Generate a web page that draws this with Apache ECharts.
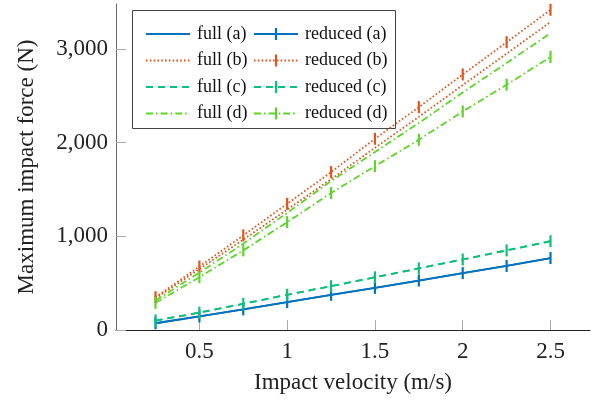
<!DOCTYPE html>
<html>
<head>
<meta charset="utf-8">
<script src="https://cdn.jsdelivr.net/npm/echarts@6/dist/echarts.min.js"></script>
<style>html,body{margin:0;padding:0;background:#fff;}#c{width:598px;height:402px;}</style>
</head>
<body>
<div id="c"></div>
<script>
// Data
const velocities = [0.25, 0.5, 0.75, 1.0, 1.25, 1.5, 1.75, 2.0, 2.25, 2.5];
const fullA    = [72, 145, 220, 298, 376, 450, 528, 607, 684, 768];
const reducedA = [72, 145, 220, 298, 376, 450, 528, 607, 684, 768];
const fullB    = [338, 650, 965, 1285, 1610, 1945, 2275, 2615, 2950, 3288];
const reducedB = [350, 678, 1010, 1347, 1686, 2041, 2379, 2728, 3072, 3418];
const fullC    = [101, 185, 280, 376, 468, 562, 658, 753, 850, 948];
const reducedC = [101, 185, 280, 376, 468, 562, 658, 753, 850, 948];
const fullD    = [315, 612, 922, 1250, 1590, 1900, 2210, 2535, 2850, 3168];
const reducedD = [290, 564, 850, 1151, 1462, 1749, 2030, 2333, 2618, 2915];
const xTicks = [0.5, 1, 1.5, 2, 2.5];
const yTicks = [0, 1000, 2000, 3000];
const seriesNames = ['full (a)', 'reduced (a)', 'full (b)', 'reduced (b)', 'full (c)', 'reduced (c)', 'full (d)', 'reduced (d)'];

const colA = '#0072BD', colB = '#E0561C', colC = '#0DC07A', colD = '#5ED42B';
const dashA = null, dashB = [1.6, 2.2], dashC = [7, 5], dashD = [7, 3, 1.6, 3];
const font = 'Liberation Serif';
const bar = 'path://M0,0h2v12h-2z';

function pairs(vals) { return velocities.map((v, i) => [v, vals[i]]); }
function mk(name, vals, color, dash, marker) {
  return {
    name: name, type: 'line', data: pairs(vals),
    symbol: marker ? bar : 'none',
    symbolSize: [2.2, 12],
    showSymbol: !!marker,
    color: color,
    itemStyle: { color: color },
    lineStyle: { color: color, width: 1.8, type: dash || 'solid' },
    animation: false,
    z: marker ? 3 : 2
  };
}
// legend icon: line sample (with its dash pattern) plus optional bar marker
function iconPath(pattern, marker) {
  const W = 44, y0 = 6.1, y1 = 7.9;
  let d = 'M0,0L0,0ZM' + W + ',14L' + W + ',14Z';
  const pat = pattern || [W, 0];
  let x = 0, i = 0;
  while (x < W) {
    const on = pat[i % pat.length];
    const x1 = Math.min(x + on, W);
    d += 'M' + x + ',' + y0 + 'L' + x1 + ',' + y0 + 'L' + x1 + ',' + y1 + 'L' + x + ',' + y1 + 'Z';
    x = x1 + pat[(i + 1) % pat.length];
    i += 2;
    if (pat[(i - 1) % pat.length] === 0 && x1 >= W) break;
  }
  if (marker) d += 'M20.9,1L23.1,1L23.1,13L20.9,13Z';
  return 'path://' + d;
}

const dashes = [dashA, dashB, dashC, dashD];
const legendBase = {
  orient: 'vertical', top: 20, itemWidth: 44, itemHeight: 14, itemGap: 8.5,
  itemStyle: { borderWidth: 0 },
  textStyle: { fontFamily: font, fontSize: 18, color: '#111', lineHeight: 18, padding: [0, 0, 0, 2] },
  z: 10
};

const chart = echarts.init(document.getElementById('c'), null, { renderer: 'canvas' });
chart.setOption({
  backgroundColor: '#fff',
  animation: false,
  grid: { left: 116, right: 8, top: 4, bottom: 72 },
  xAxis: {
    type: 'value', min: 0.025, max: 2.725,
    name: 'Impact velocity (m/s)', nameLocation: 'middle', nameGap: 41,
    nameTextStyle: { fontFamily: font, fontSize: 23, color: '#222' },
    axisLine: { lineStyle: { color: '#222', width: 1.2 } },
    axisTick: { inside: true, length: 10, lineStyle: { color: '#aaa', width: 1 }, customValues: xTicks },
    axisLabel: { fontFamily: font, fontSize: 23, color: '#222', margin: 10, customValues: xTicks },
    splitLine: { show: false }
  },
  yAxis: {
    type: 'value', min: 0, max: 3480,
    name: 'Maximum impact force (N)', nameLocation: 'middle', nameGap: 78, nameRotate: 90,
    nameTextStyle: { fontFamily: font, fontSize: 23, color: '#222' },
    axisLine: { show: true, lineStyle: { color: '#666', width: 1 } },
    axisTick: { show: true, inside: true, length: 10, lineStyle: { color: '#aaa', width: 1 }, customValues: yTicks },
    axisLabel: { fontFamily: font, fontSize: 23, color: '#222', margin: 8, customValues: yTicks,
      formatter: v => v.toLocaleString('en-US') },
    splitLine: { show: false }
  },
  graphic: [{
    type: 'rect', left: 132, top: 10, z: 0,
    shape: { width: 263, height: 118 },
    style: { fill: '#fff', stroke: '#444', lineWidth: 1 }
  }],
  legend: [
    Object.assign({}, legendBase, {
      left: 141,
      data: [0, 2, 4, 6].map((k, j) => ({ name: seriesNames[k], icon: iconPath(dashes[j], false) }))
    }),
    Object.assign({}, legendBase, {
      left: 249,
      data: [1, 3, 5, 7].map((k, j) => ({ name: seriesNames[k], icon: iconPath(dashes[j], true) }))
    })
  ],
  series: [
    mk(seriesNames[0], fullA, colA, dashA, false),
    mk(seriesNames[1], reducedA, colA, dashA, true),
    mk(seriesNames[2], fullB, colB, dashB, false),
    mk(seriesNames[3], reducedB, colB, dashB, true),
    mk(seriesNames[4], fullC, colC, dashC, false),
    mk(seriesNames[5], reducedC, colC, dashC, true),
    mk(seriesNames[6], fullD, colD, dashD, false),
    mk(seriesNames[7], reducedD, colD, dashD, true)
  ]
});
</script>
</body>
</html>
